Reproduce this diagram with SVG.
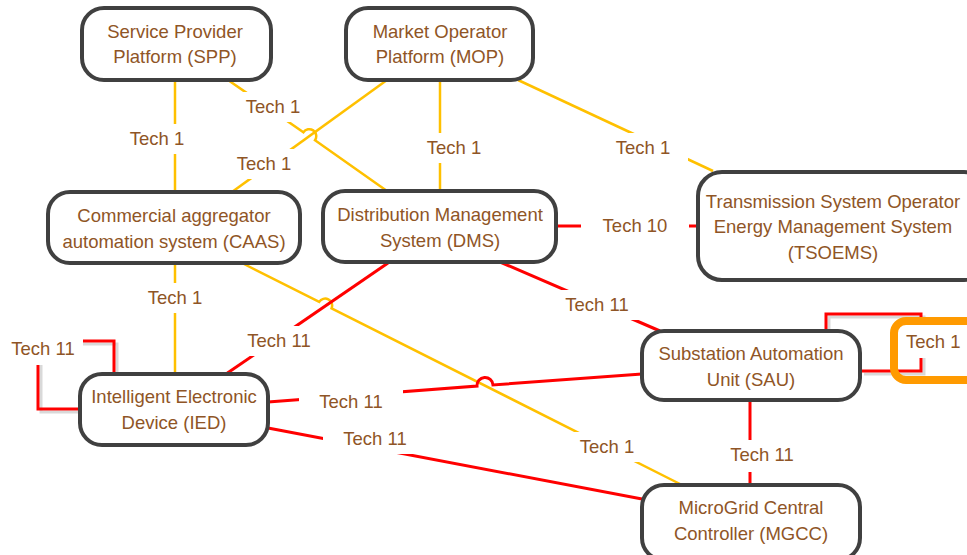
<svg xmlns="http://www.w3.org/2000/svg" width="967" height="555" viewBox="0 0 967 555">
  <style>
    .node rect { fill: #ffffff; stroke: #404040; stroke-width: 4; }
    .node text, .lbl text { font-family: "Liberation Sans", Arial, sans-serif; font-size: 18.5px; fill: #8F5526; text-anchor: middle; }
    .y { fill: none; stroke: #FFC000; stroke-width: 2.5; }
    .r { fill: none; stroke: #FF0000; stroke-width: 3; }
    .sh { fill: none; stroke: #d9d9d9; stroke-width: 3; }
    .lbl rect { fill: #ffffff; stroke: none; }
  </style>
  <rect x="0" y="0" width="967" height="555" fill="#ffffff"/>

  <g id="connectors">
    <!-- self-loop shadows -->
    <path class="sh" d="M117,375 V344 H41 V412 H82"/>
    <path class="sh" d="M829,333 V317 H924 V374 H864"/>
    <!-- Tech 1 (yellow) -->
    <path id="c-spp-caas" class="y" d="M175,80 V192"/>
    <path id="c-mop-caas" class="y" d="M387,80 L232,192"/>
    <path id="c-spp-dms" class="y" d="M228,80 L303.4,132.2 A7,7 0 0 1 315.0,140.2 L387,191"/>
    <path id="c-mop-dms" class="y" d="M440,80 V191"/>
    <path id="c-mop-tsoems" class="y" d="M518,80 L713,171"/>
    <path id="c-caas-ied" class="y" d="M175,263 V374"/>
    <path id="c-caas-mgcc" class="y" d="M242,263 L319.2,301.9 A7,7 0 0 1 331.6,308.3 L680,484"/>
    <!-- Tech 10 / Tech 11 (red) -->
    <path id="c-dms-tsoems" class="r" d="M556,226 H698"/>
    <path id="c-dms-sau" class="r" d="M500,262 L660,331"/>
    <path id="c-dms-ied" class="r" d="M388,263 L226,374"/>
    <path id="c-ied-sau" class="r" d="M268,402 L477.0,386.1 A8,8 0 0 1 493.0,384.9 L642,374"/>
    <path id="c-ied-mgcc" class="r" d="M268,428 L642,499"/>
    <path id="c-sau-mgcc" class="r" d="M750,400 V485"/>
    <path id="c-ied-loop" class="r" d="M114,374 V341 H38 V409 H80"/>
    <path id="c-sau-loop" class="r" d="M826,331 V314 H921 V371 H860"/>
  </g>

  <g id="connector-labels" class="lbl">
    <rect x="112" y="124" width="90" height="30"/><text x="157" y="145">Tech 1</text>
    <rect x="228" y="92" width="90" height="30"/><text x="273" y="113">Tech 1</text>
    <rect x="219" y="149" width="90" height="30"/><text x="264" y="170">Tech 1</text>
    <rect x="409" y="133" width="90" height="30"/><text x="454" y="154">Tech 1</text>
    <rect x="598" y="133" width="90" height="30"/><text x="643" y="154">Tech 1</text>
    <rect x="130" y="283" width="90" height="30"/><text x="175" y="304">Tech 1</text>
    <rect x="562" y="432" width="90" height="30"/><text x="607" y="453">Tech 1</text>
    <rect x="581" y="211" width="108" height="30"/><text x="635" y="232">Tech 10</text>
    <rect x="547" y="290" width="100" height="30"/><text x="597" y="311">Tech 11</text>
    <rect x="229" y="326" width="100" height="30"/><text x="279" y="347">Tech 11</text>
    <rect x="299" y="387" width="104" height="30"/><text x="351" y="408">Tech 11</text>
    <rect x="323" y="424" width="104" height="30"/><text x="375" y="445">Tech 11</text>
    <rect x="712" y="440" width="100" height="32"/><text x="762" y="461">Tech 11</text>
    <rect x="0" y="333" width="83" height="32"/><text x="43" y="355">Tech 11</text>
    <g id="sau-loop-label">
      <rect x="897" y="324" width="75" height="34"/>
      <text x="906" y="348" style="text-anchor:start">Tech 1</text>
      <rect x="894" y="321" width="100" height="59" rx="12" ry="12" style="fill:none;stroke:#FF9A00;stroke-width:8"/>
    </g>
  </g>

  <g id="node-spp" class="node">
    <rect x="82" y="8" width="189" height="72" rx="22" ry="22"/>
    <text x="175" y="38">Service Provider</text>
    <text x="175" y="63">Platform (SPP)</text>
  </g>
  <g id="node-mop" class="node">
    <rect x="346" y="8" width="187" height="72" rx="22" ry="22"/>
    <text x="440" y="38">Market Operator</text>
    <text x="440" y="63">Platform (MOP)</text>
  </g>
  <g id="node-caas" class="node">
    <rect x="48" y="192" width="252" height="71" rx="22" ry="22"/>
    <text x="174" y="222">Commercial aggregator</text>
    <text x="174" y="248">automation system (CAAS)</text>
  </g>
  <g id="node-dms" class="node">
    <rect x="323" y="191" width="233" height="71" rx="22" ry="22"/>
    <text x="440" y="221">Distribution Management</text>
    <text x="440" y="247">System (DMS)</text>
  </g>
  <g id="node-tsoems" class="node">
    <rect x="698" y="172" width="290" height="108" rx="24" ry="24"/>
    <text x="833" y="208">Transmission System Operator</text>
    <text x="833" y="233">Energy Management System</text>
    <text x="833" y="259">(TSOEMS)</text>
  </g>
  <g id="node-sau" class="node">
    <rect x="642" y="331" width="218" height="69" rx="22" ry="22"/>
    <text x="751" y="360">Substation Automation</text>
    <text x="751" y="386">Unit (SAU)</text>
  </g>
  <g id="node-ied" class="node">
    <rect x="80" y="374" width="188" height="71" rx="22" ry="22"/>
    <text x="174" y="403">Intelligent Electronic</text>
    <text x="174" y="429">Device (IED)</text>
  </g>
  <g id="node-mgcc" class="node">
    <rect x="642" y="485" width="218" height="75" rx="22" ry="22"/>
    <text x="751" y="514">MicroGrid Central</text>
    <text x="751" y="540">Controller (MGCC)</text>
  </g>
</svg>
